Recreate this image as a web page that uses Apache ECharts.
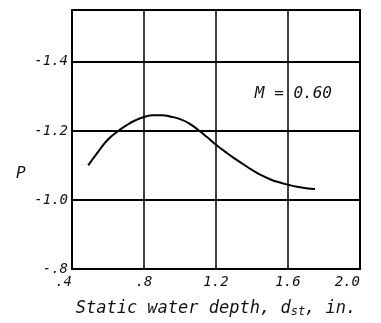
<!DOCTYPE html>
<html>
<head>
<meta charset="utf-8">
<script src="https://cdn.jsdelivr.net/npm/echarts@6/dist/echarts.min.js"></script>
<style>
  html, body { margin: 0; padding: 0; background: #fff; }
  #chart { width: 381px; height: 323px; }
</style>
</head>
<body>
<div id="chart"></div>
<script>
// curve: static water depth (in.) vs pressure coefficient P
const depth = [0.49, 0.55, 0.60, 0.65, 0.70, 0.75, 0.80, 0.85, 0.90, 0.95, 1.00,
  1.05, 1.10, 1.15, 1.20, 1.25, 1.30, 1.35, 1.40, 1.45, 1.50, 1.55, 1.60, 1.65,
  1.70, 1.75];
const pValues = [-1.100, -1.143, -1.175, -1.197, -1.215, -1.230, -1.240, -1.245,
  -1.245, -1.241, -1.234, -1.222, -1.203, -1.182, -1.160, -1.140, -1.121, -1.104,
  -1.087, -1.072, -1.060, -1.051, -1.044, -1.038, -1.034, -1.032];

const xTicks = [0.4, 0.8, 1.2, 1.6, 2.0];
const xTickLabels = [".4", ".8", "1.2", "1.6", "2.0"];
const yTicks = [-1.4, -1.2, -1.0, -0.8];
const yTickLabels = ["-1.4", "-1.2", "-1.0", "-.8"];

const machLabel = "M = 0.60";
const machPos = [1.63, -1.306];

// lettering on the original is wide and even, a mono face fits it best
const font = "DejaVu Sans Mono";

const lookup = (ticks, labels, v) => {
  const i = ticks.findIndex((t) => Math.abs(t - v) < 1e-6);
  return i < 0 ? "" : labels[i];
};

const chart = echarts.init(document.getElementById("chart"));

chart.setOption({
  animation: false,
  grid: {
    left: 72,
    right: 21,
    top: 10,
    bottom: 45,
    show: true,
    borderColor: "#000",
    borderWidth: 2,
  },
  xAxis: {
    type: "value",
    min: 0.4,
    max: 2.0,
    interval: 0.4,
    name: "Static water depth, d{sub|st}, in.",
    nameLocation: "middle",
    nameGap: 31,
    nameTextStyle: {
      fontFamily: font,
      fontStyle: "italic",
      fontSize: 17,
      color: "#111",
      rich: {
        sub: {
          fontFamily: font,
          fontStyle: "italic",
          fontSize: 12,
          color: "#111",
          verticalAlign: "bottom",
          padding: [6, 0, 0, 0],
        },
      },
    },
    axisLine: { lineStyle: { color: "#000", width: 2 } },
    axisTick: { show: false },
    axisLabel: {
      margin: 6,
      fontFamily: font,
      fontStyle: "italic",
      fontSize: 14,
      color: "#111",
      alignMinLabel: "right",
      alignMaxLabel: "right",
      formatter: (v) => lookup(xTicks, xTickLabels, v),
    },
    splitLine: { lineStyle: { color: "#000", width: 1.5 } },
  },
  yAxis: {
    type: "value",
    min: -1.55,
    max: -0.8,
    splitNumber: 4,
    inverse: true,
    axisLine: { lineStyle: { color: "#000", width: 2 } },
    axisTick: { show: false },
    axisLabel: {
      margin: 4,
      fontFamily: font,
      fontStyle: "italic",
      fontSize: 14,
      color: "#111",
      formatter: (v) => lookup(yTicks, yTickLabels, v),
    },
    splitLine: { lineStyle: { color: "#000", width: 2 } },
  },
  graphic: [
    {
      type: "text",
      left: 16,
      top: 166,
      style: {
        text: "P",
        font: "italic 16px 'DejaVu Sans Mono'",
        fill: "#111",
      },
    },
  ],
  series: [
    {
      type: "line",
      data: depth.map((d, i) => [d, pValues[i]]),
      smooth: true,
      showSymbol: false,
      lineStyle: { color: "#000", width: 2 },
      markPoint: {
        symbol: "circle",
        symbolSize: 0,
        label: {
          show: true,
          position: "inside",
          formatter: machLabel,
          fontFamily: font,
          fontStyle: "italic",
          fontSize: 16,
          color: "#111",
        },
        data: [{ coord: machPos }],
      },
    },
  ],
});
</script>
</body>
</html>
